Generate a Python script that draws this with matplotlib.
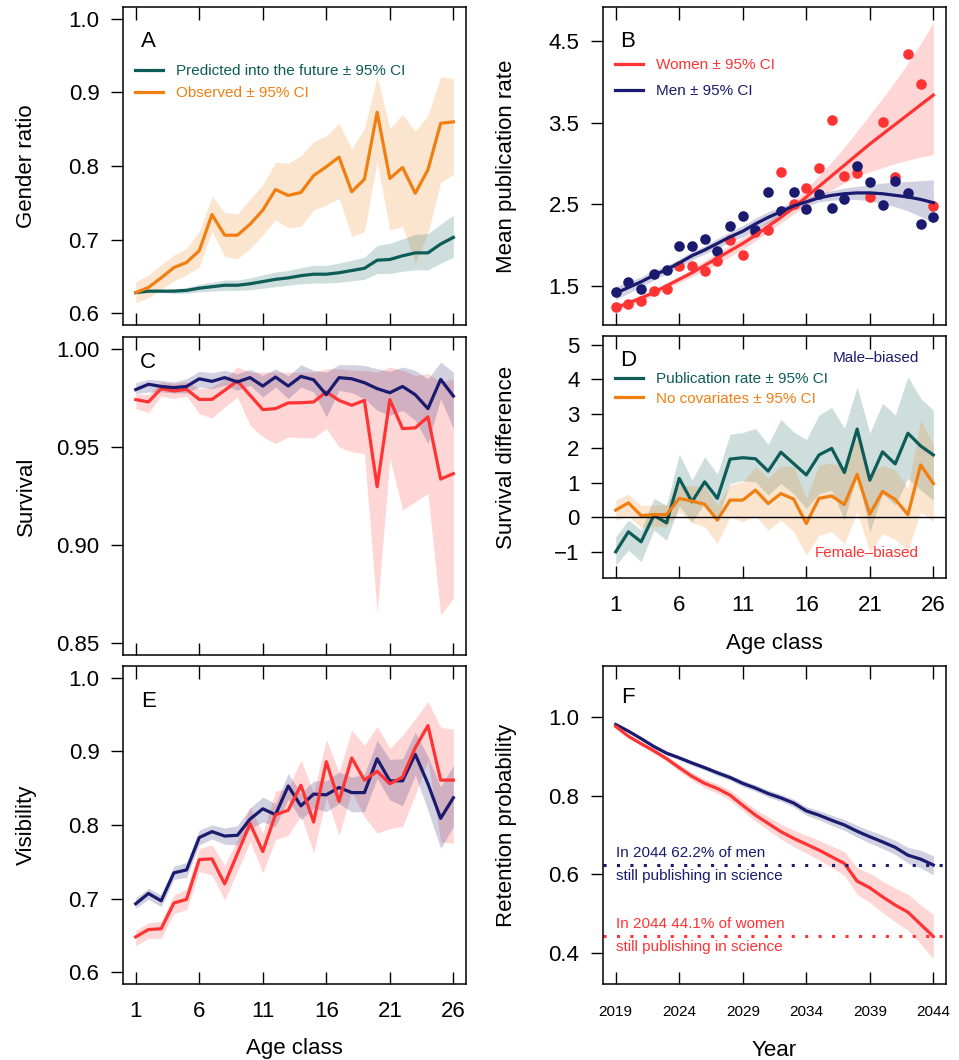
import matplotlib.pyplot as plt

plt.rcParams['font.family'] = ['Liberation Sans', 'DejaVu Sans']

TEAL = '#0e5c57'
ORANGE = '#f07f12'
RED = '#ff3333'
NAVY = '#1a1a6e'

age = list(range(1, 27))
years = list(range(2019, 2045))

# A - gender ratio
pred = [0.628,0.630,0.630,0.630,0.631,0.634,0.636,0.638,0.638,0.640,0.643,0.646,0.648,0.651,0.653,0.653,0.655,0.658,0.661,0.672,0.673,0.678,0.682,0.682,0.694,0.703]
pred_lo = [0.627,0.628,0.628,0.627,0.627,0.629,0.630,0.631,0.631,0.632,0.634,0.636,0.638,0.640,0.641,0.641,0.642,0.644,0.646,0.654,0.654,0.657,0.659,0.659,0.668,0.676]
pred_hi = [0.629,0.632,0.632,0.633,0.635,0.639,0.642,0.645,0.645,0.648,0.652,0.656,0.658,0.662,0.665,0.665,0.668,0.672,0.676,0.692,0.695,0.701,0.707,0.708,0.721,0.733]
obs = [0.628,0.635,0.648,0.662,0.669,0.685,0.734,0.706,0.706,0.721,0.740,0.768,0.760,0.764,0.787,0.799,0.812,0.765,0.782,0.873,0.783,0.798,0.763,0.795,0.858,0.860]
obs_lo = [0.614,0.621,0.632,0.644,0.652,0.663,0.711,0.677,0.674,0.688,0.706,0.727,0.716,0.718,0.740,0.747,0.756,0.704,0.711,0.806,0.713,0.718,0.668,0.709,0.778,0.789]
obs_hi = [0.643,0.652,0.666,0.679,0.688,0.711,0.759,0.737,0.735,0.755,0.775,0.805,0.804,0.814,0.833,0.841,0.858,0.823,0.851,0.922,0.851,0.870,0.847,0.869,0.921,0.919]

# B - publication rate
women_pts = [1.24,1.28,1.31,1.44,1.46,1.74,1.74,1.68,1.80,2.06,1.88,2.16,2.18,2.90,2.51,2.70,2.95,3.54,2.85,2.89,2.59,3.51,2.83,4.34,3.98,2.48]
men_pts = [1.43,1.55,1.46,1.65,1.69,1.99,1.99,2.08,1.93,2.23,2.36,2.18,2.65,2.42,2.65,2.44,2.63,2.45,2.56,2.97,2.77,2.49,2.79,2.64,2.26,2.34]
women_fit = [1.23,1.29,1.35,1.42,1.50,1.58,1.66,1.75,1.84,1.93,2.02,2.12,2.23,2.34,2.46,2.59,2.72,2.85,2.98,3.11,3.24,3.36,3.48,3.60,3.72,3.84]
women_lo = [1.19,1.25,1.31,1.38,1.46,1.54,1.61,1.69,1.77,1.86,1.95,2.05,2.16,2.27,2.38,2.49,2.59,2.68,2.76,2.84,2.90,2.95,3.00,3.04,3.08,3.11]
women_hi = [1.27,1.33,1.39,1.46,1.54,1.62,1.71,1.81,1.91,2.00,2.09,2.19,2.30,2.41,2.54,2.69,2.85,3.02,3.20,3.40,3.60,3.80,4.01,4.23,4.47,4.73]
men_fit = [1.41,1.48,1.55,1.63,1.70,1.78,1.87,1.94,2.02,2.10,2.17,2.26,2.34,2.41,2.48,2.53,2.58,2.61,2.63,2.64,2.64,2.63,2.61,2.59,2.56,2.52]
men_lo = [1.33,1.41,1.49,1.57,1.65,1.73,1.82,1.89,1.96,2.04,2.10,2.19,2.27,2.35,2.43,2.48,2.53,2.55,2.56,2.56,2.54,2.51,2.47,2.42,2.35,2.27]
men_hi = [1.49,1.55,1.61,1.69,1.75,1.83,1.92,1.99,2.08,2.16,2.24,2.33,2.41,2.47,2.53,2.58,2.63,2.67,2.70,2.72,2.74,2.76,2.77,2.78,2.79,2.80]

# C - survival
surv_m = [0.9792,0.9819,0.9808,0.9802,0.9808,0.9847,0.9834,0.9853,0.9831,0.9853,0.9810,0.9856,0.9810,0.9859,0.9842,0.9766,0.9853,0.9847,0.9827,0.9797,0.9776,0.9808,0.9766,0.9695,0.9844,0.9759]
surv_m_lo = [0.9771,0.9780,0.9780,0.9775,0.9775,0.9805,0.9797,0.9814,0.9788,0.9814,0.9754,0.9805,0.9746,0.9805,0.9780,0.9653,0.9788,0.9776,0.9746,0.9686,0.9661,0.9686,0.9636,0.9517,0.9746,0.9593]
surv_m_hi = [0.9827,0.9844,0.9839,0.9831,0.9847,0.9885,0.9878,0.9890,0.9873,0.9895,0.9864,0.9898,0.9861,0.9919,0.9890,0.9881,0.9919,0.9919,0.9915,0.9898,0.9885,0.9907,0.9890,0.9847,0.9932,0.9881]
surv_w = [0.9741,0.9729,0.9797,0.9785,0.9793,0.9742,0.9742,0.9788,0.9836,0.9763,0.9690,0.9695,0.9724,0.9725,0.9729,0.9780,0.9737,0.9712,0.9737,0.9297,0.9741,0.9593,0.9597,0.9653,0.9336,0.9364]
surv_w_lo = [0.9695,0.9675,0.9759,0.9746,0.9759,0.9669,0.9647,0.9703,0.9754,0.9610,0.9551,0.9517,0.9551,0.9547,0.9546,0.9593,0.9500,0.9475,0.9466,0.8653,0.9441,0.9178,0.9220,0.9263,0.8644,0.8729]
surv_w_hi = [0.9771,0.9766,0.9831,0.9825,0.9831,0.9797,0.9805,0.9847,0.9907,0.9881,0.9881,0.9881,0.9881,0.9881,0.9881,0.9898,0.9898,0.9890,0.9890,0.9881,0.9907,0.9890,0.9864,0.9873,0.9831,0.9847]

# D - survival difference
diff_pub = [-1.00,-0.42,-0.71,0.06,-0.16,1.13,0.45,1.03,0.55,1.69,1.73,1.70,1.34,1.89,1.56,1.23,1.81,2.00,1.30,2.56,1.08,1.90,1.55,2.44,2.07,1.81]
diff_pub_lo = [-1.39,-0.95,-1.29,-0.37,-0.66,0.33,-0.13,0.40,-0.08,0.98,1.06,1.03,0.65,0.98,0.69,0.26,0.69,0.79,-0.08,1.27,-0.42,0.69,0.35,1.13,0.79,0.50]
diff_pub_hi = [-0.56,-0.08,-0.37,0.55,0.35,1.84,1.08,1.76,1.25,2.41,2.46,2.58,2.12,2.84,2.48,2.26,2.97,3.19,2.58,3.79,2.44,3.31,2.97,4.08,3.45,3.11]
diff_raw = [0.21,0.42,0.05,0.08,0.08,0.55,0.47,0.38,-0.08,0.50,0.50,0.79,0.40,0.69,0.53,-0.18,0.55,0.62,0.37,1.25,0.09,0.75,0.52,0.08,1.52,0.98]
diff_raw_lo = [-0.08,0.02,-0.29,-0.27,-0.27,0.16,-0.16,-0.27,-0.76,0.02,-0.13,0.06,-0.37,-0.08,-0.42,-1.10,-0.52,-0.42,-0.76,0.16,-1.00,-0.47,-0.64,-0.95,0.16,-0.13]
diff_raw_hi = [0.50,0.67,0.35,0.35,0.38,0.94,0.91,0.89,0.35,0.94,1.03,1.47,1.13,1.49,1.47,0.55,1.52,1.57,1.47,2.34,1.27,1.52,1.37,0.84,2.84,2.10]

# E - visibility
vis_m = [0.693,0.707,0.697,0.735,0.739,0.783,0.791,0.785,0.786,0.808,0.822,0.814,0.853,0.826,0.842,0.841,0.851,0.844,0.844,0.890,0.860,0.860,0.896,0.856,0.809,0.837]
vis_m_lo = [0.687,0.699,0.689,0.726,0.729,0.773,0.781,0.774,0.773,0.795,0.804,0.798,0.835,0.807,0.823,0.818,0.829,0.818,0.818,0.863,0.834,0.826,0.868,0.820,0.768,0.798]
vis_m_hi = [0.701,0.714,0.705,0.744,0.749,0.793,0.800,0.796,0.799,0.823,0.838,0.829,0.870,0.843,0.860,0.860,0.872,0.865,0.869,0.915,0.889,0.890,0.926,0.893,0.852,0.881]
vis_w = [0.648,0.658,0.659,0.694,0.699,0.753,0.754,0.720,0.761,0.802,0.764,0.814,0.820,0.854,0.804,0.886,0.832,0.891,0.861,0.873,0.856,0.865,0.905,0.935,0.861,0.861]
vis_w_lo = [0.636,0.646,0.646,0.680,0.685,0.737,0.732,0.698,0.737,0.777,0.735,0.780,0.786,0.813,0.762,0.838,0.786,0.845,0.811,0.789,0.795,0.798,0.841,0.888,0.777,0.775]
vis_w_hi = [0.657,0.667,0.669,0.705,0.713,0.768,0.773,0.745,0.780,0.825,0.789,0.846,0.850,0.888,0.844,0.916,0.872,0.929,0.908,0.934,0.904,0.922,0.944,0.968,0.933,0.930]

# F - retention
ret_m = [0.981,0.964,0.945,0.925,0.908,0.896,0.883,0.871,0.858,0.846,0.831,0.819,0.805,0.794,0.781,0.761,0.750,0.737,0.725,0.709,0.695,0.682,0.668,0.648,0.638,0.623]
ret_m_lo = [0.979,0.961,0.941,0.921,0.903,0.891,0.877,0.865,0.851,0.839,0.823,0.811,0.796,0.785,0.771,0.750,0.738,0.724,0.711,0.694,0.679,0.665,0.650,0.628,0.616,0.598]
ret_m_hi = [0.983,0.967,0.949,0.929,0.913,0.901,0.889,0.877,0.865,0.853,0.839,0.827,0.814,0.803,0.791,0.772,0.762,0.750,0.739,0.724,0.711,0.699,0.686,0.668,0.660,0.647]
ret_w = [0.976,0.951,0.932,0.914,0.894,0.871,0.849,0.831,0.818,0.801,0.775,0.750,0.729,0.708,0.691,0.676,0.661,0.644,0.627,0.582,0.565,0.542,0.521,0.503,0.472,0.441]
ret_w_lo = [0.973,0.947,0.927,0.908,0.887,0.862,0.839,0.820,0.806,0.788,0.761,0.735,0.712,0.689,0.670,0.653,0.636,0.617,0.597,0.548,0.528,0.502,0.478,0.457,0.422,0.385]
ret_w_hi = [0.979,0.955,0.937,0.920,0.901,0.880,0.859,0.842,0.830,0.814,0.789,0.765,0.746,0.727,0.712,0.699,0.686,0.671,0.657,0.616,0.602,0.582,0.564,0.549,0.522,0.497]
final_m = 0.622
final_w = 0.441

FS = 16
LW = 2.3
fig = plt.figure(figsize=(9.59, 10.60), dpi=100)

def frame(ax, ylim, yticks, ylabel, xlim=(0, 27), xticks=(1, 6, 11, 16, 21, 26),
          xlabels=False, xfs=FS, xpad=12):
    ax.set_xlim(*xlim)
    ax.set_ylim(*ylim)
    ax.set_xticks(list(xticks))
    ax.set_yticks(yticks)
    ax.tick_params(axis='x', direction='in', top=True, bottom=True, length=9,
                   width=1, labelsize=xfs, pad=xpad, labelbottom=xlabels)
    ax.tick_params(axis='y', direction='out', length=9, width=1, labelsize=FS, pad=8)
    ax.set_ylabel(ylabel, fontsize=FS)
    ax.yaxis.set_label_coords(-0.25, 0.5)
    for s in ax.spines.values():
        s.set_linewidth(1.1)

def letter(ax, s, y):
    ax.text(0.073, y, s, transform=ax.transAxes, fontsize=FS, ha='center', va='center')

def legend(ax, handles, labels, y, spacing):
    ax.legend(handles, labels, loc='upper left', bbox_to_anchor=(0.035, y),
              frameon=False, fontsize=11, handlelength=1.8, handletextpad=0.85,
              labelspacing=spacing, borderpad=0, borderaxespad=0, labelcolor='linecolor')

# panel A
axA = fig.add_axes([0.1283, 0.6934, 0.3577, 0.3])
axA.fill_between(age, obs_lo, obs_hi, color=ORANGE, alpha=0.2, lw=0)
axA.fill_between(age, pred_lo, pred_hi, color=TEAL, alpha=0.2, lw=0)
l1, = axA.plot(age, pred, color=TEAL, lw=LW)
l2, = axA.plot(age, obs, color=ORANGE, lw=LW)
frame(axA, (0.584, 1.016), [0.6, 0.7, 0.8, 0.9, 1.0], 'Gender ratio')
letter(axA, 'A', 0.89)
legend(axA, [l1, l2], ['Predicted into the future ± 95% CI', 'Observed ± 95% CI'], 0.82, 0.5)

# panel B
axB = fig.add_axes([0.6288, 0.6934, 0.3577, 0.3])
axB.fill_between(age, women_lo, women_hi, color=RED, alpha=0.2, lw=0)
axB.fill_between(age, men_lo, men_hi, color=NAVY, alpha=0.2, lw=0)
axB.scatter(age, women_pts, s=58, color=RED, lw=0, zorder=3)
axB.scatter(age, men_pts, s=58, color=NAVY, lw=0, zorder=3)
l3, = axB.plot(age, women_fit, color=RED, lw=LW, zorder=4)
l4, = axB.plot(age, men_fit, color=NAVY, lw=LW, zorder=4)
frame(axB, (1.02, 4.92), [1.5, 2.5, 3.5, 4.5], 'Mean publication rate')
letter(axB, 'B', 0.89)
legend(axB, [l3, l4], ['Women ± 95% CI', 'Men ± 95% CI'], 0.84, 0.8)

# panel C
axC = fig.add_axes([0.1283, 0.3821, 0.3577, 0.3])
axC.fill_between(age, surv_w_lo, surv_w_hi, color=RED, alpha=0.2, lw=0)
axC.fill_between(age, surv_m_lo, surv_m_hi, color=NAVY, alpha=0.2, lw=0)
axC.plot(age, surv_w, color=RED, lw=LW)
axC.plot(age, surv_m, color=NAVY, lw=LW)
frame(axC, (0.844, 1.006), [0.85, 0.90, 0.95, 1.00], 'Survival')
letter(axC, 'C', 0.921)

# panel D
axD = fig.add_axes([0.6288, 0.4547, 0.3577, 0.2283])
axD.fill_between(age, diff_pub_lo, diff_pub_hi, color=TEAL, alpha=0.2, lw=0)
axD.fill_between(age, diff_raw_lo, diff_raw_hi, color=ORANGE, alpha=0.2, lw=0)
l5, = axD.plot(age, diff_pub, color=TEAL, lw=LW)
l6, = axD.plot(age, diff_raw, color=ORANGE, lw=LW)
axD.axhline(0, color='black', lw=1)
frame(axD, (-1.76, 5.26), [-1, 0, 1, 2, 3, 4, 5], 'Survival difference', xlabels=True)
axD.set_xlabel('Age class', fontsize=FS)
axD.xaxis.set_label_coords(0.5, -0.227)
letter(axD, 'D', 0.90)
axD.text(0.921, 0.909, 'Male–biased', transform=axD.transAxes, color=NAVY,
         fontsize=11, ha='right', va='center')
axD.text(0.921, 0.103, 'Female–biased', transform=axD.transAxes, color=RED,
         fontsize=11, ha='right', va='center')
legend(axD, [l5, l6], ['Publication rate ± 95% CI', 'No covariates ± 95% CI'], 0.85, 0.35)

# panel E
axE = fig.add_axes([0.1283, 0.0717, 0.3577, 0.3])
axE.fill_between(age, vis_w_lo, vis_w_hi, color=RED, alpha=0.2, lw=0)
axE.fill_between(age, vis_m_lo, vis_m_hi, color=NAVY, alpha=0.2, lw=0)
axE.plot(age, vis_m, color=NAVY, lw=LW)
axE.plot(age, vis_w, color=RED, lw=LW)
frame(axE, (0.584, 1.016), [0.6, 0.7, 0.8, 0.9, 1.0], 'Visibility', xlabels=True)
axE.set_xlabel('Age class', fontsize=FS)
axE.xaxis.set_label_coords(0.5, -0.17)
letter(axE, 'E', 0.887)

# panel F
axF = fig.add_axes([0.6288, 0.0717, 0.3577, 0.3])
axF.fill_between(years, ret_w_lo, ret_w_hi, color=RED, alpha=0.2, lw=0)
axF.fill_between(years, ret_m_lo, ret_m_hi, color=NAVY, alpha=0.2, lw=0)
axF.plot(years, ret_m, color=NAVY, lw=LW)
axF.plot(years, ret_w, color=RED, lw=LW)
axF.axhline(final_m, color=NAVY, lw=2.2, ls=(0, (1, 3.4)))
axF.axhline(final_w, color=RED, lw=2.2, ls=(0, (1, 3.4)))
frame(axF, (0.32, 1.13), [0.4, 0.6, 0.8, 1.0], 'Retention probability',
      xlim=(2018, 2045), xticks=range(2019, 2045, 5), xlabels=True, xfs=11, xpad=15)
axF.set_xlabel('Year', fontsize=FS)
axF.xaxis.set_label_coords(0.5, -0.176)
letter(axF, 'F', 0.90)
axF.text(2019, 0.654, 'In 2044 62.2% of men', color=NAVY, fontsize=11, va='center')
axF.text(2019, 0.596, 'still publishing in science', color=NAVY, fontsize=11, va='center')
axF.text(2019, 0.474, 'In 2044 44.1% of women', color=RED, fontsize=11, va='center')
axF.text(2019, 0.415, 'still publishing in science', color=RED, fontsize=11, va='center')

fig.savefig('out.png', dpi=100)
